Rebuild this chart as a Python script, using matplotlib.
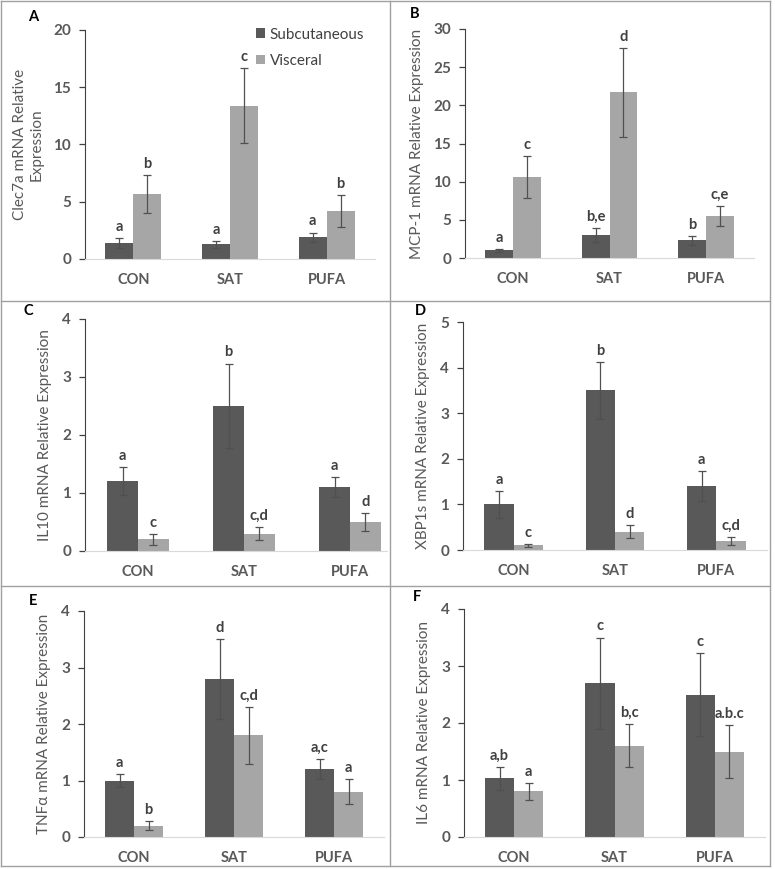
import matplotlib
matplotlib.use('Agg')
import matplotlib.pyplot as plt
import numpy as np
from matplotlib.lines import Line2D

plt.rcParams['font.family'] = ['Lato', 'DejaVu Sans']

groups = ['CON', 'SAT', 'PUFA']

# A - Clec7a
clec_sub = [1.4, 1.3, 1.9]
clec_sub_err = [0.4, 0.3, 0.4]
clec_vis = [5.7, 13.4, 4.2]
clec_vis_err = [1.65, 3.3, 1.4]
clec_sub_let = ['a', 'a', 'a']
clec_vis_let = ['b', 'c', 'b']

# B - MCP-1
mcp_sub = [1.0, 3.0, 2.3]
mcp_sub_err = [0.15, 0.9, 0.55]
mcp_vis = [10.6, 21.7, 5.5]
mcp_vis_err = [2.7, 5.85, 1.3]
mcp_sub_let = ['a', 'b,e', 'b']
mcp_vis_let = ['c', 'd', 'c,e']

# C - IL10
il10_sub = [1.2, 2.5, 1.1]
il10_sub_err = [0.24, 0.73, 0.17]
il10_vis = [0.2, 0.3, 0.5]
il10_vis_err = [0.09, 0.11, 0.15]
il10_sub_let = ['a', 'b', 'a']
il10_vis_let = ['c', 'c,d', 'd']

# D - XBP1s
xbp_sub = [1.0, 3.5, 1.4]
xbp_sub_err = [0.3, 0.63, 0.33]
xbp_vis = [0.1, 0.4, 0.2]
xbp_vis_err = [0.03, 0.14, 0.09]
xbp_sub_let = ['a', 'b', 'a']
xbp_vis_let = ['c', 'd', 'c,d']

# E - TNFa
tnf_sub = [1.0, 2.8, 1.2]
tnf_sub_err = [0.12, 0.71, 0.18]
tnf_vis = [0.2, 1.8, 0.8]
tnf_vis_err = [0.08, 0.5, 0.22]
tnf_sub_let = ['a', 'd', 'a,c']
tnf_vis_let = ['b', 'c,d', 'a']

# F - IL6
il6_sub = [1.03, 2.7, 2.5]
il6_sub_err = [0.2, 0.8, 0.72]
il6_vis = [0.8, 1.6, 1.5]
il6_vis_err = [0.15, 0.38, 0.47]
il6_sub_let = ['a,b', 'c', 'c']
il6_vis_let = ['a', 'b,c', 'a.b.c']

W, H = 775, 869
fig = plt.figure(figsize=(W / 100, H / 100), dpi=100)

dark = '#595959'
light = '#a6a6a6'
txt = '#595959'
bw = 0.29


def panel(box, sub, sub_err, vis, vis_err, sub_let, vis_let, ymax, step, ylabel, letter, letter_xy, xmax=2.5):
    left, right, top, bottom = box
    ax = fig.add_axes([left / W, 1 - bottom / H, (right - left) / W, (bottom - top) / H])
    x = np.arange(len(groups))
    ax.bar(x - bw / 2, sub, bw, color=dark, label='Subcutaneous', zorder=2)
    ax.bar(x + bw / 2, vis, bw, color=light, label='Visceral', zorder=2)
    ax.errorbar(x - bw / 2, sub, yerr=sub_err, fmt='none', ecolor='#505050', elinewidth=0.9, capsize=3, capthick=0.9, zorder=3)
    ax.errorbar(x + bw / 2, vis, yerr=vis_err, fmt='none', ecolor='#505050', elinewidth=0.9, capsize=3, capthick=0.9, zorder=3)
    for i in range(len(groups)):
        ax.annotate(sub_let[i], (x[i] - bw / 2, sub[i] + sub_err[i]), xytext=(0, 3), textcoords='offset points',
                    ha='center', va='bottom', fontsize=10.5, fontweight='bold', color='#404040')
        ax.annotate(vis_let[i], (x[i] + bw / 2, vis[i] + vis_err[i]), xytext=(0, 3), textcoords='offset points',
                    ha='center', va='bottom', fontsize=10.5, fontweight='bold', color='#404040')
    ax.set_xlim(-0.5, xmax)
    ax.set_ylim(0, ymax)
    ax.set_yticks(np.arange(0, ymax + 0.01, step))
    ax.set_xticks(x)
    ax.set_xticklabels(groups)
    ax.tick_params(axis='x', length=0, pad=10, labelsize=10.5, labelcolor=txt)
    ax.tick_params(axis='y', length=4, width=0.9, color='#404040', labelsize=11, labelcolor=txt, pad=6)
    for lab in ax.get_xticklabels() + ax.get_yticklabels():
        lab.set_fontweight('bold')
    ax.spines['top'].set_visible(False)
    ax.spines['right'].set_visible(False)
    ax.spines['left'].set_color('#404040')
    ax.spines['bottom'].set_color('#d9d9d9')
    ax.set_ylabel(ylabel, fontsize=11, color=txt, labelpad=7)
    fig.text(letter_xy[0] / W, 1 - letter_xy[1] / H, letter, fontsize=10.5, fontweight='bold',
             ha='center', va='center', color='black')
    return ax


axA = panel((85, 375, 30, 259), clec_sub, clec_sub_err, clec_vis, clec_vis_err, clec_sub_let, clec_vis_let,
            20, 5, 'Clec7a mRNA Relative\nExpression', 'A', (33, 17))
axA.legend(loc='upper right', bbox_to_anchor=(1.01, 1.07), frameon=False, fontsize=11, handlelength=0.6,
           handleheight=0.6, handletextpad=0.3, labelspacing=0.8, labelcolor='#404040')

panel((465, 754, 29, 258), mcp_sub, mcp_sub_err, mcp_vis, mcp_vis_err, mcp_sub_let, mcp_vis_let,
      30, 5, 'MCP-1 mRNA Relative Expression', 'B', (415, 14))
panel((85, 387, 319, 551), il10_sub, il10_sub_err, il10_vis, il10_vis_err, il10_sub_let, il10_vis_let,
      4, 1, 'IL10 mRNA Relative Expression', 'C', (28, 311), xmax=2.35)
panel((463, 767, 322, 550), xbp_sub, xbp_sub_err, xbp_vis, xbp_vis_err, xbp_sub_let, xbp_vis_let,
      5, 1, 'XBP1s mRNA Relative Expression', 'D', (420, 311))
panel((84, 384, 611, 837), tnf_sub, tnf_sub_err, tnf_vis, tnf_vis_err, tnf_sub_let, tnf_vis_let,
      4, 1, 'TNFα mRNA Relative Expression', 'E', (33, 601))
panel((464, 765, 609, 837), il6_sub, il6_sub_err, il6_vis, il6_vis_err, il6_sub_let, il6_vis_let,
      4, 1, 'IL6 mRNA Relative Expression', 'F', (417, 597))

# panel borders
bc = '#a0a0a0'
for yy in [1, 301, 586, 866]:
    fig.add_artist(Line2D([1 / W, 770 / W], [1 - yy / H, 1 - yy / H], color=bc, lw=1))
for xx in [1, 390, 770]:
    fig.add_artist(Line2D([xx / W, xx / W], [1 - 1 / H, 1 - 866 / H], color=bc, lw=1))

fig.savefig('out.png', dpi=100)
